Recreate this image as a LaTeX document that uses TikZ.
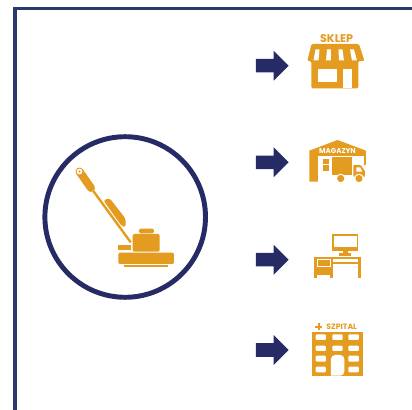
\documentclass[tikz,border=0pt]{standalone}
\usepackage{fontspec}
\setmainfont{Poppins}
\usetikzlibrary{shapes.arrows}
\definecolor{navyline}{HTML}{262B66}
\definecolor{frameline}{HTML}{2A3A6E}
\definecolor{amber}{HTML}{E39B20}
\tikzset{
  navyarrow/.style={single arrow,fill=navyline,draw=none,inner sep=0pt,minimum height=24.5pt,minimum width=22pt,single arrow head extend=6.1pt},
  amberlabel/.style={text=amber,inner sep=0pt},
  winhole/.style={fill=white,rounded corners=0.8}
}
\newcommand{\shaftstrut}{\rule{0pt}{9.75pt}}
\begin{document}
\begin{tikzpicture}[x=0.75pt,y=-0.75pt]
\useasboundingbox (0,0) rectangle (412,410);
% frame and circle
\draw[frameline,line width=2.3pt] (15,410) -- (15,8.5) -- (412,8.5);
\draw[navyline,line width=3.7pt] (125.2,217) circle (80.3);
% floor machine
\draw[amber,line width=6pt,line cap=round] (79.5,171.5) -- (91,188);
\draw[amber,line width=1.8pt] (93.3,191) -- (130.7,242.3);
\fill[white] (79.5,171.5) circle (2.9);
\fill[amber] (79.5,171.5) circle (1.2);
\fill[amber,rounded corners=1.5] (103.5,200.5) -- (109.5,198) -- (125.8,219) -- (125.5,227) -- (122,226.5) -- cycle;
\fill[amber,rounded corners=1] (132.7,234) rectangle (159.7,251.7);
\fill[amber,rounded corners=1] (139,228.7) rectangle (154,233.3);
\fill[amber] (118.3,244.7) rectangle (131,250.3);
\fill[amber,rounded corners=1] (118.3,252.7) rectangle (174,264);
\fill[amber] (124,264.7) rectangle (168.3,267.3);
% arrows
\node[navyarrow] (arrowshop) at (268.9,65.7) {\shaftstrut};
\node[navyarrow] (arrowstore) at (268.9,162.3) {\shaftstrut};
\node[navyarrow] (arrowdesk) at (268.9,259.7) {\shaftstrut};
\node[navyarrow] (arrowclinic) at (268.9,350) {\shaftstrut};
% shop
\node[amberlabel,font=\fontsize{8.4pt}{9pt}\selectfont\bfseries] (shoplabel) at (336.6,39) {SKLEP};
\fill[amber,rounded corners=1] (311.5,44) -- (359,44) -- (364.5,61) -- (358.3,61) -- (358.3,88.3) -- (311.3,88.3) -- (311.3,61) -- (307.3,61) -- cycle;
\fill[white] (315.5,49.5) -- (319.5,49.5) -- (318.5,60.5) -- (313.5,60.5) -- cycle;
\fill[white] (327,49.5) -- (331,49.5) -- (331,60.5) -- (326,60.5) -- cycle;
\fill[white] (338.5,49.5) -- (342.5,49.5) -- (344,60.5) -- (339,60.5) -- cycle;
\fill[white] (350,49.5) -- (354,49.5) -- (357,60.5) -- (352,60.5) -- cycle;
\fill[white] (318.3,69) rectangle (336.7,82.3);
\fill[white] (342.7,69) rectangle (351.7,88.3);
% warehouse
\fill[amber] (309.3,150.7) -- (337.5,140) -- (366,150.7) -- (366,181.7) -- (309.3,181.7) -- cycle;
\fill[white] (318.3,156) rectangle (363.7,181.7);
\fill[white] (363,165) rectangle (366,181.7);
\node[amberlabel,text=white,font=\fontsize{5.3pt}{6pt}\selectfont\bfseries] (storelabel) at (337.5,150.7) {MAGAZYN};
\fill[amber] (322.7,159.3) rectangle (328.7,164.3);
\fill[amber] (322.7,165.3) rectangle (328.7,170.7);
\fill[amber] (332.3,157.3) rectangle (351.7,175);
\fill[amber,rounded corners=0.5] (353.3,165) -- (360.5,165) -- (365,171) -- (365,176.7) -- (353.3,176.7) -- cycle;
\fill[white] (356.5,167.3) -- (360,167.3) -- (362.5,171.7) -- (356.5,171.7) -- cycle;
\fill[white] (340.7,178.5) circle (4.8);
\fill[white] (359,178.5) circle (4.8);
\fill[amber] (340.7,178.5) circle (3.6);
\fill[amber] (359,178.5) circle (3.6);
% desk
\fill[amber] (332.3,234.3) rectangle (358.3,251);
\fill[white] (334,236) rectangle (356.7,246.7);
\fill[amber] (342.7,251) rectangle (347.7,253.5);
\fill[amber] (339,253.3) rectangle (351,256);
\fill[amber] (314.3,256.7) rectangle (360.7,259);
\fill[amber] (333.3,262.3) rectangle (360.7,263.7);
\fill[amber] (358.3,259) rectangle (360.7,278.3);
\fill[amber] (314.3,259) rectangle (333.3,275);
\fill[amber] (314.3,275) rectangle (317.5,278.3);
\fill[amber] (330,275) rectangle (333.3,278.3);
\draw[white,line width=0.5pt] (316.9,259.5) rectangle (330.8,266);
% hospital
\fill[amber] (315.5,325.7) rectangle (322.5,327.7);
\fill[amber] (318,323.2) rectangle (320,330.2);
\node[amberlabel,font=\fontsize{5.8pt}{7pt}\selectfont\bfseries] (cliniclabel) at (341.7,326.7) {SZPITAL};
\fill[amber] (312.3,331.7) rectangle (363.3,375.7);
\fill[winhole] (315.7,334.3) rectangle (326,340);
\fill[winhole] (332.3,334.3) rectangle (342.7,340);
\fill[winhole] (348.3,334.3) rectangle (359,340);
\fill[winhole] (315.7,345.7) rectangle (326,351);
\fill[winhole] (332.3,345.7) rectangle (342.7,351);
\fill[winhole] (348.3,345.7) rectangle (359,351);
\fill[winhole] (315.7,355.7) rectangle (326,361.7);
\fill[winhole] (348.3,355.7) rectangle (359,361.7);
\fill[winhole] (315.7,366.7) rectangle (326,372.3);
\fill[winhole] (348.3,366.7) rectangle (359,372.3);
\fill[white] (331,375.7) {[rounded corners=3] -- (331,355) -- (344.3,355) -- (344.3,375.7)} -- cycle;
\end{tikzpicture}
\end{document}
